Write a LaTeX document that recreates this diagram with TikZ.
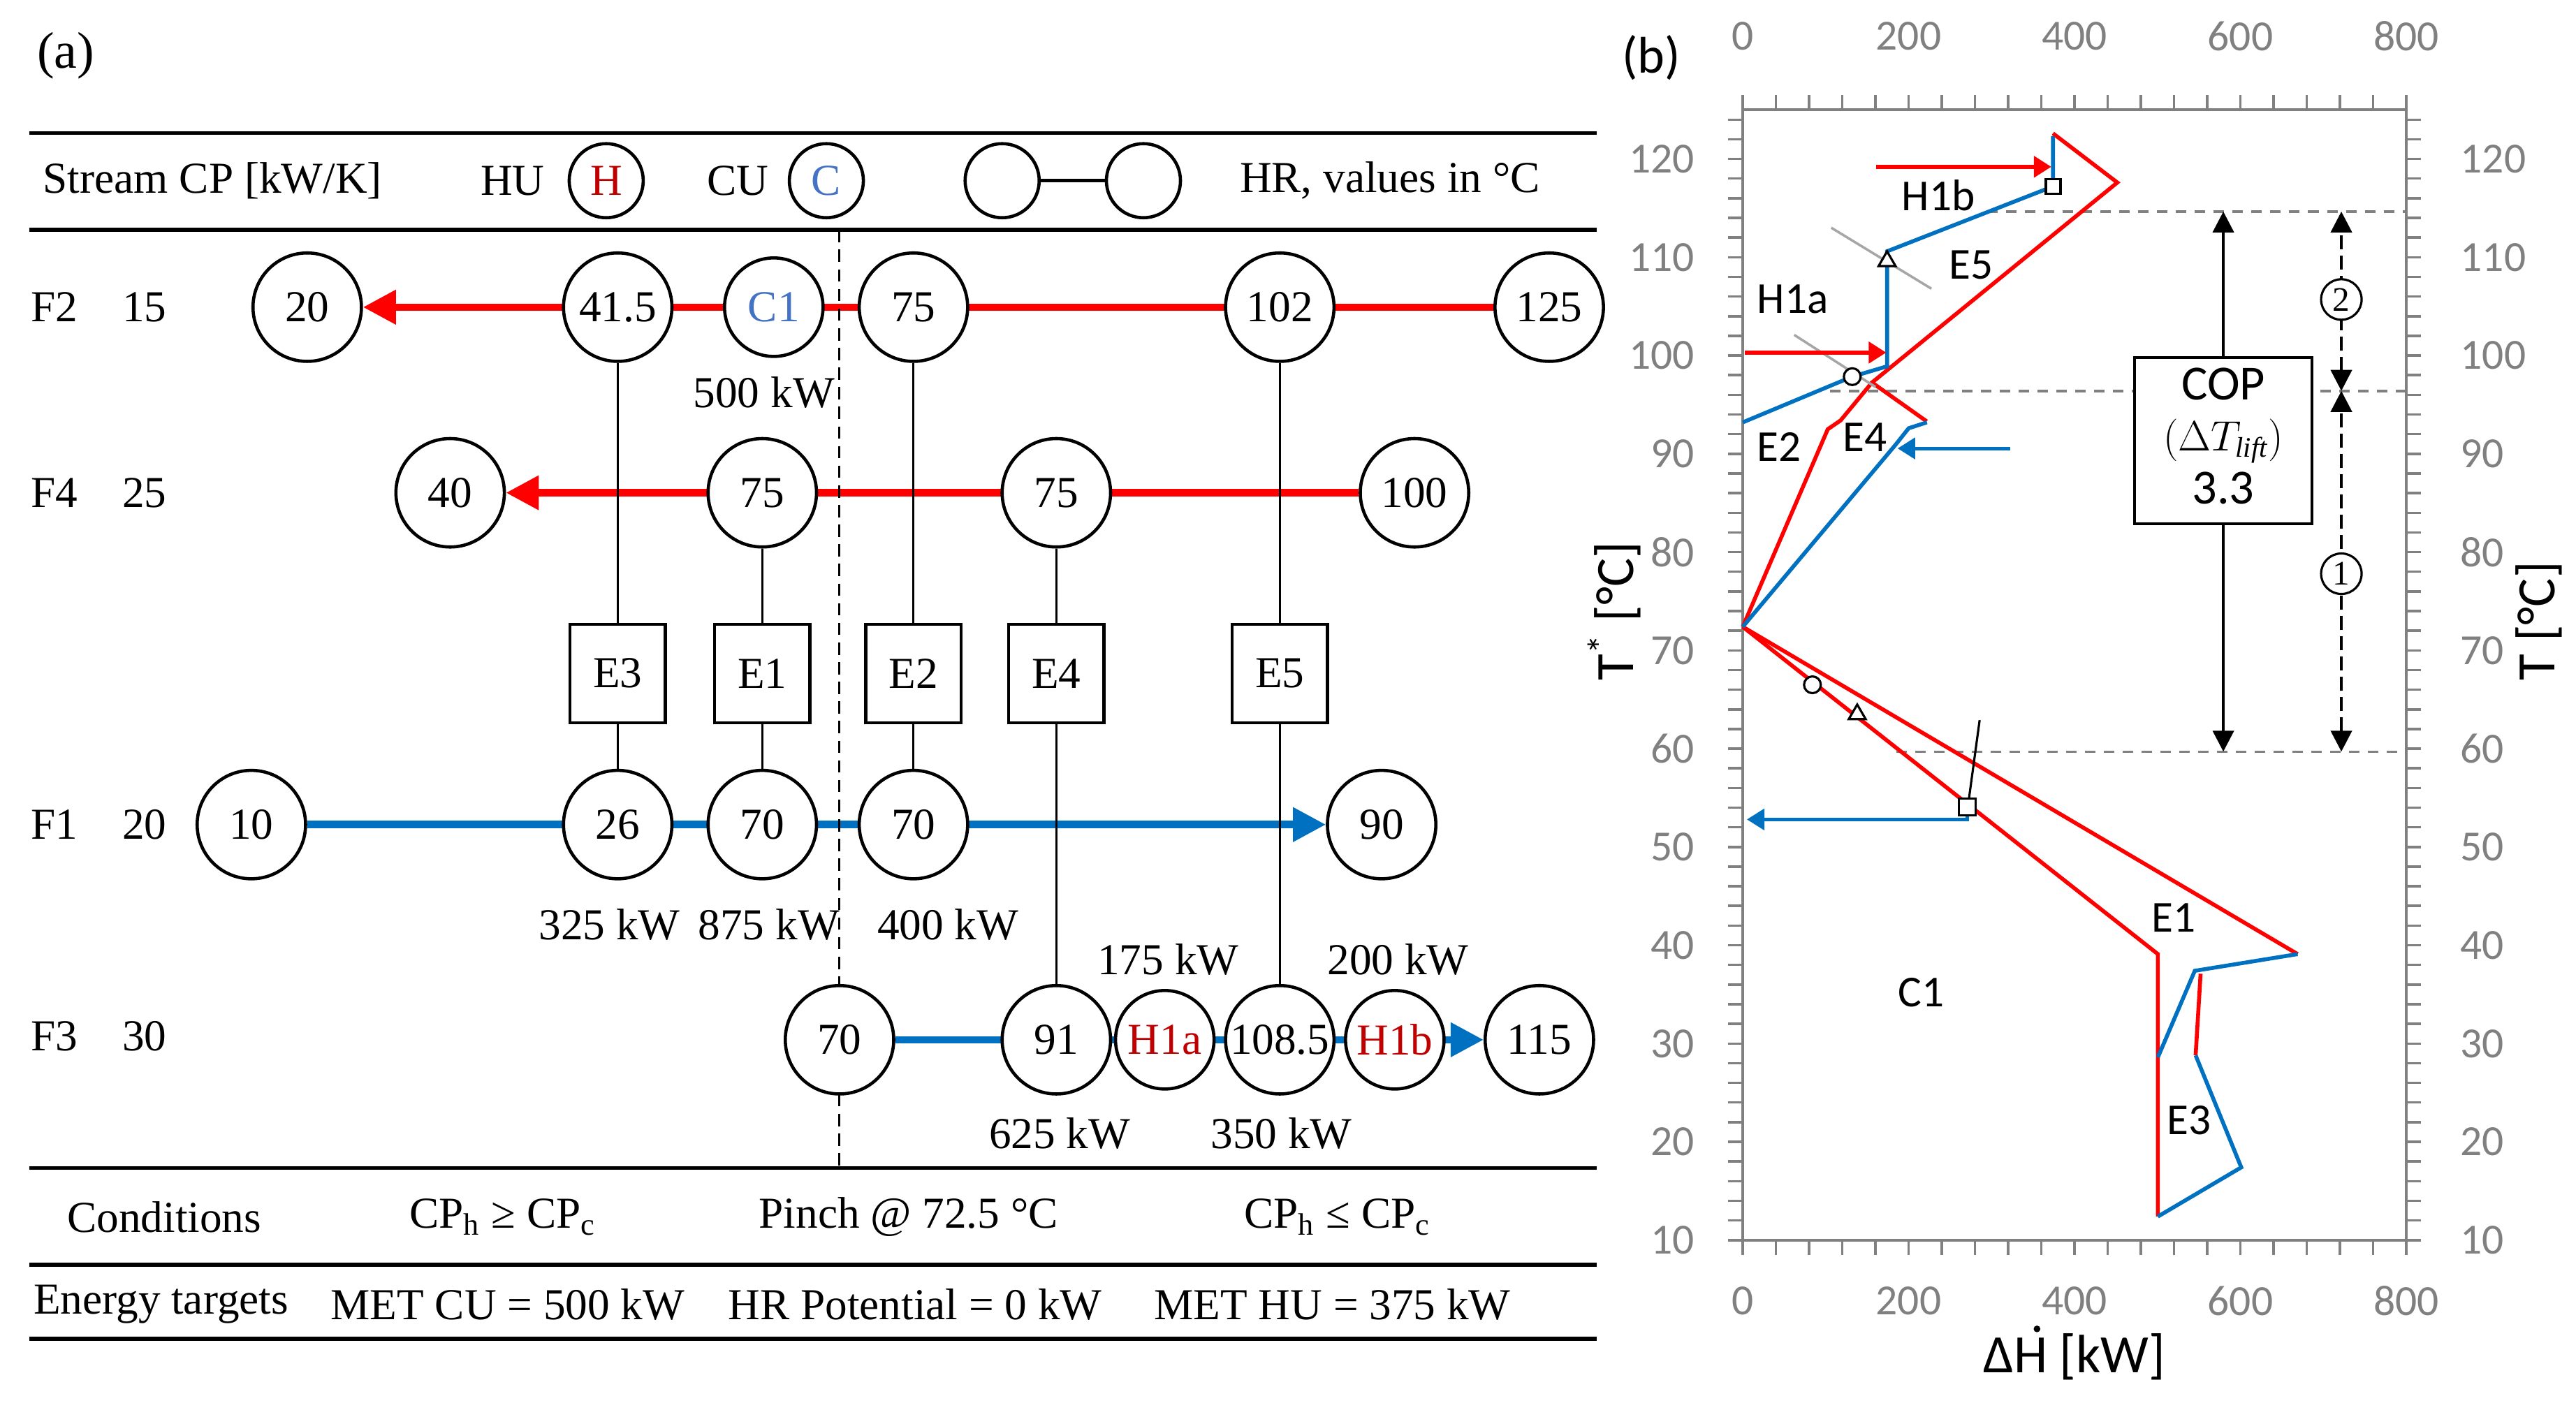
\documentclass[tikz,border=0pt]{standalone}
\usepackage{fontspec}
\setmainfont{Liberation Serif}
\newfontfamily\calib{Carlito}
\usetikzlibrary{arrows.meta,shapes.geometric}
\pgfdeclarelayer{bg}
\pgfsetlayers{bg,main}
\definecolor{hotred}{HTML}{FF0000}
\definecolor{coldblue}{HTML}{0070C0}
\definecolor{hured}{HTML}{C00000}
\definecolor{cublue}{HTML}{4472C4}
\definecolor{axgray}{HTML}{808080}
\definecolor{leadgray}{HTML}{A6A6A6}
\tikzset{
 ftxt/.style={font=\fontsize{18}{21}\selectfont},
 strm/.style={circle, draw, line width=1.3pt, fill=white, minimum size=1.552cm, inner sep=0pt, ftxt},
 utilc/.style={strm, minimum size=1.41cm},
 legc/.style={strm, minimum size=1.06cm},
 hxbox/.style={rectangle, draw, line width=1.2pt, fill=white, minimum width=1.364cm, minimum height=1.411cm, inner sep=0pt, ftxt},
 hotln/.style={draw=hotred, line width=3pt, -{Triangle[length=0.47cm,width=0.47cm]}},
 coldln/.style={draw=coldblue, line width=3pt, -{Triangle[length=0.47cm,width=0.47cm]}},
 linkln/.style={line width=0.9pt},
 rulel/.style={line width=1.6pt},
 ticklab/.style={text=axgray, font=\calib\fontsize{17.5}{20}\selectfont},
 axlab/.style={font=\calib\fontsize{22}{25}\selectfont},
 plab/.style={font=\calib\fontsize{18}{21}\selectfont},
 hotc/.style={draw=hotred, line width=1.6pt},
 coldc/.style={draw=coldblue, line width=1.6pt},
 sarrow/.style={-{Triangle[length=0.25cm,width=0.3cm]}},
 mk/.style={draw, fill=white, line width=0.9pt, inner sep=0pt},
 bigtip/.style={-{Triangle[length=0.3cm,width=0.3cm]}},
}
\begin{document}
\begin{tikzpicture}[x=0.02352cm, y=-0.02352cm]
\useasboundingbox (0,0) rectangle (1568,853.74);

% ================= panel (a) =================
\node[font=\fontsize{21}{24}\selectfont] (lbla) at (40,34) {(a)};
\draw[rulel] (18,81) -- (972,81);
\draw[rulel] (18,140) -- (972,140);
\draw[rulel] (18,711) -- (972,711);
\draw[rulel] (18,770) -- (972,770);
\draw[rulel] (18,815) -- (972,815);

% header
\node[ftxt, anchor=west] (hdr) at (21,110) {Stream CP [kW/K]};
\node[ftxt] (hu) at (312,110) {HU};
\node[legc, text=hured] (hH) at (369,110) {H};
\node[ftxt] (cu) at (449,110) {CU};
\node[legc, text=cublue] (hC) at (503,110) {C};
\node[legc] (hr1) at (610,110) {};
\node[legc] (hr2) at (696,110) {};
\draw[line width=1.3pt] (hr1) -- (hr2);
\node[ftxt] (hrt) at (846,110) {HR, values in °C};

% stream labels
\node[ftxt] (nF2) at (33,187) {F2}; \node[ftxt] (cF2) at (88,187) {15};
\node[ftxt] (nF4) at (33,300) {F4}; \node[ftxt] (cF4) at (88,300) {25};
\node[ftxt] (nF1) at (33,502) {F1}; \node[ftxt] (cF1) at (88,502) {20};
\node[ftxt] (nF3) at (33,631) {F3}; \node[ftxt] (cF3) at (88,631) {30};

% F2
\node[strm] (f2a) at (187,187) {20};
\node[strm] (f2b) at (376,187) {41.5};
\node[utilc, text=cublue] (f2c) at (471,187) {C1};
\node[strm] (f2d) at (556,187) {75};
\node[strm] (f2e) at (779,187) {102};
\node[strm] (f2f) at (943,187) {125};
% F4
\node[strm] (f4a) at (274,300) {40};
\node[strm] (f4b) at (464,300) {75};
\node[strm] (f4c) at (643,300) {75};
\node[strm] (f4d) at (861,300) {100};
% exchangers
\node[hxbox] (e3) at (376,410) {E3};
\node[hxbox] (e1) at (464,410) {E1};
\node[hxbox] (e2) at (556,410) {E2};
\node[hxbox] (e4) at (643,410) {E4};
\node[hxbox] (e5) at (779,410) {E5};
% F1
\node[strm] (f1a) at (153,502) {10};
\node[strm] (f1b) at (376,502) {26};
\node[strm] (f1c) at (464,502) {70};
\node[strm] (f1d) at (556,502) {70};
\node[strm] (f1e) at (841,502) {90};
% F3
\node[strm] (f3a) at (511,633) {70};
\node[strm] (f3b) at (643,633) {91};
\node[utilc, text=hured] (f3c) at (709,633) {H1a};
\node[strm] (f3d) at (779,633) {108.5};
\node[utilc, text=hured] (f3e) at (849,633) {H1b};
\node[strm] (f3f) at (937,633) {115};

\begin{pgfonlayer}{bg}
\draw[hotln] (f2f) -- (f2a);
\draw[hotln] (f4d) -- (f4a);
\draw[coldln] (f1a) -- (f1e);
\draw[coldln] (f3a) -- (f3f);
\draw[linkln] (f2b) -- (e3);
\draw[linkln] (e3) -- (f1b);
\draw[linkln] (f4b) -- (e1);
\draw[linkln] (e1) -- (f1c);
\draw[linkln] (f2d) -- (e2);
\draw[linkln] (e2) -- (f1d);
\draw[linkln] (f4c) -- (e4);
\draw[linkln] (e4) -- (f3b);
\draw[linkln] (f2e) -- (e5);
\draw[linkln] (e5) -- (f3d);
\coordinate (pinchT) at (511,140);
\coordinate (pinchB) at (511,711);
\draw[line width=0.8pt, dash pattern=on 5pt off 3pt] (pinchT) -- (pinchB);
\end{pgfonlayer}

% duties
\node[ftxt] (q500) at (465,239) {500 kW};
\node[ftxt] (q325) at (371,563) {325 kW};
\node[ftxt] (q875) at (468,563) {875 kW};
\node[ftxt] (q400) at (577,563) {400 kW};
\node[ftxt] (q175) at (711,584) {175 kW};
\node[ftxt] (q200) at (851,584) {200 kW};
\node[ftxt] (q625) at (645,690) {625 kW};
\node[ftxt] (q350) at (780,690) {350 kW};

% bottom rows
\node[ftxt] (cond) at (100,741) {Conditions};
\node[ftxt] (cnd1) at (306,741) {CP\textsubscript{h} ≥ CP\textsubscript{c}};
\node[ftxt] (cnd2) at (553,741) {Pinch @ 72.5 °C};
\node[ftxt] (cnd3) at (814,741) {CP\textsubscript{h} ≤ CP\textsubscript{c}};
\node[ftxt] (etg) at (98,794) {Energy targets};
\node[ftxt] (et1) at (309,794) {MET CU = 500 kW};
\node[ftxt] (et2) at (557,794) {HR Potential = 0 kW};
\node[ftxt] (et3) at (811,794) {MET HU = 375 kW};

% ================= panel (b) =================
\node[font=\calib\fontsize{21}{24}\selectfont] (lblb) at (1005,35) {(b)};

\begin{scope}[shift={(1060.8,814.82)}, x=0.011875cm, y=0.1407cm]
 % guide lines
 \draw[axgray, line width=1pt, dash pattern=on 0.15cm off 0.12cm] (295,114.65) -- (800,114.65);
 \draw[axgray, line width=1pt, dash pattern=on 0.15cm off 0.12cm] (105,96.4) -- (800,96.4);
 \draw[axgray, line width=1pt, dash pattern=on 0.15cm off 0.12cm] (185,59.7) -- (800,59.7);
 % frame and ticks
 \draw[axgray, line width=1.2pt] (0,10) rectangle (800,125);
 \foreach \t in {10,12,...,124} {
   \draw[axgray, line width=1pt] (0,\t) -- (-18,\t);
   \draw[axgray, line width=1pt] (800,\t) -- (818,\t);
 }
 \foreach \k in {0,40,...,800} {
   \draw[axgray, line width=1pt] (\k,125) -- (\k,126.5);
   \draw[axgray, line width=1pt] (\k,10) -- (\k,8.5);
 }
 \foreach \t in {10,20,...,120} {
   \node[ticklab, anchor=east] at (-48,\t) {\t};
   \node[ticklab, anchor=west] at (855,\t) {\t};
 }
 \foreach \k in {0,200,...,800} {
   \node[ticklab] at (\k,132.5) {\k};
   \node[ticklab] at (\k,3.8) {\k};
 }
 \node[axlab, rotate=90] (ylab) at (-155,74) {T\textsuperscript{*} [°C]};
 \node[axlab, rotate=90] (y2lab) at (960,73) {T [°C]};
 \node[axlab] (xlab) at (400,-1.9) {ΔH [kW]};
 % dot accent over the H of the axis title
 \fill ([xshift=0.89cm, yshift=0.63cm]xlab.base west) circle[radius=0.048cm];

 % curves
 \draw[hotc] (374,122.6) -- (451.6,117.6) -- (155.8,97.25) -- (221.8,93.3);
 \draw[hotc] (155.8,97.25) -- (118,93.4) -- (102.5,92.5) -- (0,72.4);
 \draw[hotc] (0,72.4) -- (669,39.1);
 \draw[hotc] (0,72.4) -- (500.5,39.1) -- (500.5,12.4);
 \draw[hotc] (546,28.8) -- (552,37.1);
 \draw[coldc] (374,122.3) -- (374,117.2) -- (174,110.6) -- (174,98.9) -- (132,97.85) -- (0,93.2);
 \draw[coldc] (0,72.4) -- (185,91.0) -- (200,92.6) -- (222,93.2);
 \draw[coldc] (500.5,12.4) -- (601,17.4) -- (546,28.8);
 \draw[coldc] (500.5,28.6) -- (545,37.4) -- (669,39.1);

 % leaders
 \draw[leadgray, line width=1pt] (106.7,113.0) -- (227.4,106.8);
 \draw[leadgray, line width=1pt] (62,102.1) -- (160,96.8);

 % utility arrows
 \coordinate (h1bS) at (161,119.2); \coordinate (h1bE) at (372,119.2);
 \draw[hotred, line width=1.6pt, sarrow] (h1bS) -- (h1bE);
 \coordinate (h1aS) at (2.8,100.3); \coordinate (h1aE) at (173,100.3);
 \draw[hotred, line width=1.6pt, sarrow] (h1aS) -- (h1aE);
 \coordinate (e4aS) at (322.8,90.55); \coordinate (e4aE) at (186.7,90.55);
 \draw[coldblue, line width=1.4pt, sarrow] (e4aS) -- (e4aE);
 \coordinate (c1a) at (270.7,53.6); \coordinate (c1b) at (270.7,52.8); \coordinate (c1c) at (5,52.8);
 \draw[coldblue, line width=1.4pt, sarrow] (c1a) -- (c1b) -- (c1c);
 \coordinate (sqA) at (271.4,54.1); \coordinate (sqB) at (285.6,62.9);
 \draw[line width=0.9pt] (sqA) -- (sqB);

 % markers
 \node[mk, rectangle, minimum size=0.21cm] (m1) at (374.2,117.2) {};
 \node[mk, regular polygon, regular polygon sides=3, minimum size=0.28cm] (m2) at (174,109.6) {};
 \node[mk, circle, minimum size=0.24cm] (m3) at (132,97.85) {};
 \node[mk, circle, minimum size=0.24cm] (m4) at (84,66.5) {};
 \node[mk, regular polygon, regular polygon sides=3, minimum size=0.28cm] (m5) at (138,63.5) {};
 \node[mk, rectangle, minimum size=0.24cm] (m6) at (270.7,54.1) {};

 % labels
 \node[plab] (lH1b) at (236,116.3) {H1b};
 \node[plab] (lE5) at (275,109.2) {E5};
 \node[plab] (lH1a) at (60.4,105.7) {H1a};
 \node[plab] (lE2) at (43.5,90.7) {E2};
 \node[plab] (lE4) at (147,91.7) {E4};
 \node[plab] (lE1) at (519.7,42.8) {E1};
 \node[plab] (lE3) at (538,22.2) {E3};
 \node[plab] (lC1) at (215,35.2) {C1};

 % COP
 \coordinate (ctop) at (579.4,114.65);
 \coordinate (cbot) at (579.4,59.7);
 \node[draw, line width=1.2pt, fill=white, minimum width=2.54cm, minimum height=2.378cm, inner sep=0pt] (cop) at (579.4,91.35) {};
 \draw[line width=1.2pt, bigtip] (cop) -- (ctop);
 \draw[line width=1.2pt, bigtip] (cop) -- (cbot);
 \node[font=\calib\fontsize{20}{22}\selectfont] (copt) at (579.4,97.1) {COP};
 \node[font=\fontsize{16.5}{18}\selectfont] (copl) at (579.4,91.3) {$(\Delta T_{\mathit{lift}})$};
 \node[font=\calib\fontsize{20}{22}\selectfont] (copv) at (579.4,86.5) {3.3};

 \coordinate (dtop) at (721.7,114.65);
 \coordinate (dmid) at (721.7,96.4);
 \coordinate (dbot) at (721.7,59.7);
 \draw[line width=1.2pt, dash pattern=on 0.2cm off 0.09cm, {Triangle[length=0.3cm,width=0.3cm]}-{Triangle[length=0.3cm,width=0.3cm]}] (dmid) -- (dtop);
 \draw[line width=1.2pt, dash pattern=on 0.2cm off 0.09cm, {Triangle[length=0.3cm,width=0.3cm]}-{Triangle[length=0.3cm,width=0.3cm]}] (dbot) -- (dmid);
 \node[circle, draw, fill=white, line width=0.9pt, minimum size=0.58cm, inner sep=0pt, font=\fontsize{14}{14}\selectfont] (n2) at (721.7,105.7) {2};
 \node[circle, draw, fill=white, line width=0.9pt, minimum size=0.58cm, inner sep=0pt, font=\fontsize{14}{14}\selectfont] (n1) at (721.7,77.8) {1};
\end{scope}
\end{tikzpicture}
\end{document}
